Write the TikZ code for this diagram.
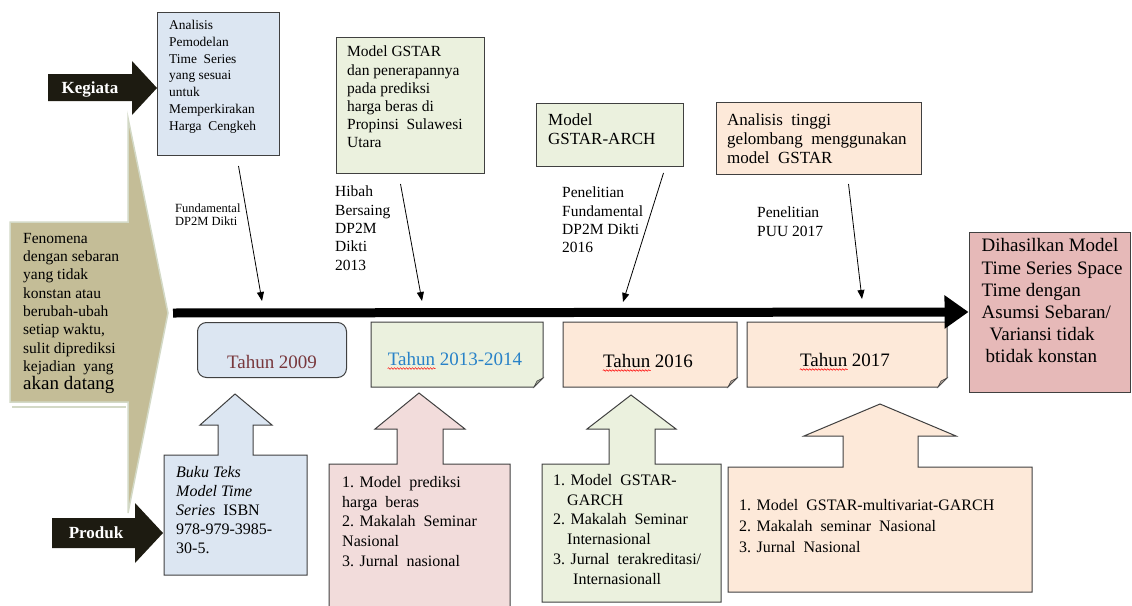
\documentclass[tikz,border=0pt]{standalone}
\usepackage{fontspec}
\setmainfont{Liberation Serif}
\usetikzlibrary{arrows.meta}
\usetikzlibrary{backgrounds}
\usetikzlibrary{decorations.pathmorphing}
\tikzset{>={Triangle[length=9pt,width=7pt]}}
\definecolor{tanchev}{HTML}{C4BD97}
\definecolor{chevgaris}{HTML}{D3D9C6}
\definecolor{kotakbiru}{HTML}{DCE6F2}
\definecolor{kotakhijau}{HTML}{EBF1DE}
\definecolor{kotakpeach}{HTML}{FDE9D9}
\definecolor{kotakpink}{HTML}{F2DCDB}
\definecolor{hasilpink}{HTML}{E6B9B8}
\definecolor{garis}{HTML}{404040}
\definecolor{hitam}{HTML}{1D1B11}
\definecolor{merahtua}{RGB}{120,55,60}
\definecolor{birutahun}{RGB}{40,130,200}
\newcommand{\fs}[2]{\fontsize{#1}{#2}\selectfont}
\newcommand{\lipat}[2]{% {node}{fill}
	\begin{scope}[on background layer]
	\filldraw[fill=#2, draw=garis, line width=1pt] (#1.north west) -- (#1.north east) -- ([yshift=9pt]#1.south east) -- ([xshift=-9pt]#1.south east) -- (#1.south west) -- cycle;
	\filldraw[fill=#2!70!black, draw=garis, line width=0.6pt] ([yshift=9pt]#1.south east) -- ([xshift=-6pt,yshift=6pt]#1.south east) -- ([xshift=-9pt]#1.south east) -- cycle; % fold
	\end{scope}
}
\newcommand{\squig}[2]{% {node}{width}
	\draw[red, line width=0.5pt, decorate, decoration={snake, amplitude=0.8pt, segment length=3pt}] ([yshift=-3pt]#1.base west) -- ++(#2,0);
}
\tikzset{
	kotak/.style={draw=garis, line width=1pt, inner sep=0pt, anchor=north west},
	teks/.style={inner sep=0pt, align=left, anchor=north west},
	callout/.style={draw=garis, line width=1pt},
	label/.style={inner sep=0pt, align=left, anchor=north west}
}

\begin{document}
\begin{tikzpicture}[x=1pt, y=-1pt]
	\useasboundingbox (0,0) rectangle (1132,605);

	\filldraw[fill=tanchev, draw=chevgaris, line width=1.5pt] (10,222) -- (128,222) -- (128,118) -- (168,313) -- (128,513) -- (128,402) -- (10,402) -- cycle;
	\draw[chevgaris, line width=2pt] (12,407) -- (126,407);
	\node[teks, font=\fs{15.5}{18.3}] (fen) at (23,233) {Fenomena\\dengan sebaran\\yang tidak\\konstan atau\\berubah-ubah\\setiap waktu,\\sulit diprediksi\\kejadian\ \ yang\\{\fs{19}{20}akan datang}};

	\fill[hitam] (48,74) -- (132,74) -- (132,61) -- (157,88) -- (132,115) -- (132,101) -- (48,101) -- cycle;
	\node[text=white, font=\fs{17}{17}\bfseries] (keg) at (90,89) {Kegiata};
	\fill[hitam] (52,518) -- (135,518) -- (135,503) -- (163,533) -- (135,563) -- (135,548) -- (52,548) -- cycle;
	\node[text=white, font=\fs{17}{17}\bfseries] (prod) at (96,533) {Produk};

	\node[kotak, fill=kotakbiru, minimum width=122pt, minimum height=143pt] (b1) at (157,12) {};
	\node[teks, font=\fs{13.4}{16.8}] (t1) at ([shift={(12,8)}]b1.north west) {Analisis\\Pemodelan\\Time\ \ Series\\yang sesuai\\untuk\\Memperkirakan\\Harga\ \ Cengkeh};
	\node[kotak, fill=kotakhijau, minimum width=148pt, minimum height=136pt] (b2) at (336,37) {};
	\node[teks, font=\fs{15.5}{18.2}] (t2) at ([shift={(11,9)}]b2.north west) {Model GSTAR\\dan penerapannya\\pada prediksi\\harga beras di\\Propinsi\ \ Sulawesi\\Utara};
	\node[kotak, fill=kotakhijau, minimum width=147pt, minimum height=63pt] (b3) at (536,103) {};
	\node[teks, font=\fs{17}{19}] (t3) at ([shift={(12,11)}]b3.north west) {Model\\GSTAR-ARCH};
	\node[kotak, fill=kotakpeach, minimum width=205pt, minimum height=72pt] (b4) at (716,102) {};
	\node[teks, font=\fs{17}{19}] (t4) at ([shift={(11,12)}]b4.north west) {Analisis\ \ tinggi\\gelombang\ \ menggunakan\\model\ \ GSTAR};

	\node[draw=garis, line width=1pt, fill=hasilpink, minimum width=161pt, minimum height=160pt, inner sep=0pt] (hasil) at (1049.5,312) {};
	\node[teks, font=\fs{19}{22.2}] (th) at ([shift={(13,7)}]hasil.north west) {Dihasilkan Model\\Time Series Space\\Time dengan\\Asumsi Sebaran/\\\hspace{8pt}Variansi tidak\\\hspace{4pt}btidak konstan};

	\coordinate (mulai) at (173,313);
	\draw[black, line width=9pt, -{Triangle[length=24pt,width=32pt]}] (mulai) -- (hasil.west);

	\coordinate (p1) at (262,301);
	\coordinate (p2) at (422,301);
	\coordinate (p3) at (623,302);
	\coordinate (p4) at (862,299);
	\draw[->, line width=0.8pt] ([shift={(20,10)}]b1.south) -- (p1);
	\draw[->, line width=0.8pt] ([shift={(-10,10)}]b2.south) -- (p2);
	\draw[->, line width=0.8pt] ([shift={(53.5,6)}]b3.south) -- (p3);
	\draw[->, line width=0.8pt] ([shift={(29.5,9)}]b4.south) -- (p4);

	\node[label, font=\fs{12.5}{13}] (l1) at (175,204) {Fundamental\\DP2M Dikti};
	\node[label, font=\fs{15.5}{18.3}] (l2) at (335,186) {Hibah\\Bersaing\\DP2M\\Dikti\\2013};
	\node[label, font=\fs{15.5}{18.3}] (l3) at (562,187) {Penelitian\\Fundamental\\DP2M Dikti\\2016};
	\node[label, font=\fs{15.5}{18.3}] (l4) at (757,207) {Penelitian\\PUU 2017};

	\node[kotak, fill=kotakbiru, rounded corners=9pt, minimum width=149pt, minimum height=55pt] (th09) at (197,322) {};
	\node[inner sep=0pt, font=\fs{19}{20}, text=merahtua] (th09t) at (272,362) {Tahun 2009};
	\node[kotak, draw=none, minimum width=171pt, minimum height=64pt] (th13) at (371,322) {};
	\lipat{th13}{kotakhijau}
	\node[inner sep=0pt, font=\fs{19}{20}, text=birutahun] (th13t) at (455,359) {Tahun 2013-2014};
	\squig{th13t}{48}
	\node[kotak, draw=none, minimum width=173pt, minimum height=64pt] (th16) at (563,322) {};
	\lipat{th16}{kotakpeach}
	\node[inner sep=0pt, font=\fs{19}{20}] (th16t) at (648,361) {Tahun 2016};
	\squig{th16t}{48}
	\node[kotak, draw=none, minimum width=199pt, minimum height=64pt] (th17) at (747,322) {};
	\lipat{th17}{kotakpeach}
	\node[inner sep=0pt, font=\fs{19}{20}] (th17t) at (845,360) {Tahun 2017};
	\squig{th17t}{48}

	\filldraw[callout, fill=kotakbiru] (164,455) -- (218,455) -- (218,425) -- (200,425) -- (235,394) -- (272,425) -- (253,425) -- (253,455) -- (307,455) -- (307,575) -- (164,575) -- cycle;
	\node[teks, font=\fs{16}{19}] (buku) at (176,466) {\textit{Buku Teks}\\\textit{Model Time}\\\textit{Series}\ \ ISBN\\978-979-3985-\\30-5.};
	\filldraw[callout, fill=kotakpink] (329,464) -- (397,464) -- (397,429) -- (375,429) -- (419,393) -- (465,429) -- (443,429) -- (443,464) -- (510,464) -- (510,612) -- (329,612) -- cycle;
	\node[teks, font=\fs{16}{19.7}] (pinkt) at (342,476) {1. Model\ \ prediksi\\harga\ \ beras\\2. Makalah\ \ Seminar\\Nasional\\3. Jurnal\ \ nasional};
	\filldraw[callout, fill=kotakhijau] (542,464) -- (609,464) -- (609,429) -- (587,429) -- (631,395) -- (676,429) -- (655,429) -- (655,464) -- (721,464) -- (721,602) -- (542,602) -- cycle;
	\node[teks, font=\fs{16}{19.8}] (hijaut) at (553,474) {1. Model\ \ GSTAR-\\\hspace{14pt}GARCH\\2. Makalah\ \ Seminar\\\hspace{14pt}Internasional\\3. Jurnal\ \ terakreditasi/\\\hspace{20pt}Internasionall};
	\filldraw[callout, fill=kotakpeach] (728,467) -- (843,467) -- (843,436) -- (804,436) -- (880,404) -- (956,436) -- (918,436) -- (918,467) -- (1032,467) -- (1032,592) -- (728,592) -- cycle;
	\node[teks, font=\fs{16}{21}] (peacht) at (739,499) {1. Model\ \ GSTAR-multivariat-GARCH\\2. Makalah\ \ seminar\ \ Nasional\\3. Jurnal\ \ Nasional};
\end{tikzpicture}
\end{document}
